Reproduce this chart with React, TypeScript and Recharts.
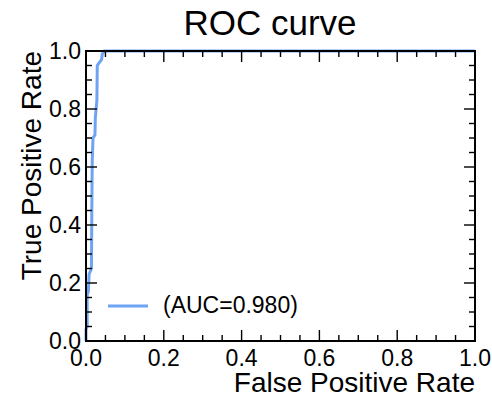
import { LineChart, Line, XAxis, YAxis, Legend, ReferenceArea } from "recharts"

// ROC points (false positive rate / true positive rate)
const fpr = [0, 0, 0.003, 0.003, 0.006, 0.008, 0.014, 0.015, 0.016, 0.018, 0.023, 0.024, 0.026, 0.028, 0.029, 0.034, 0.04, 0.042, 0.047, 1]
const tpr = [0, 0.04, 0.05, 0.16, 0.17, 0.23, 0.25, 0.45, 0.62, 0.7, 0.71, 0.77, 0.8, 0.83, 0.95, 0.96, 0.97, 0.99, 1, 1]

const tickValues = [0, 0.05, 0.1, 0.15, 0.2, 0.25, 0.3, 0.35, 0.4, 0.45, 0.5, 0.55, 0.6, 0.65, 0.7, 0.75, 0.8, 0.85, 0.9, 0.95, 1]
const majorTicks = [0, 0.2, 0.4, 0.6, 0.8, 1]

const title = "ROC curve"
const xTitle = "False Positive Rate"
const yTitle = "True Positive Rate"
const seriesName = "(AUC=0.980)"

const rocData = fpr.map((x, i) => ({ fpr: x, tpr: tpr[i] }))

const W = 492
const H = 399
const MARGIN = { top: 51, right: 17, bottom: 0, left: 0 }
const PLOT_TOP = MARGIN.top
const PLOT_RIGHT = W - MARGIN.right
const GAP = 6
const MAJOR = 11
const MINOR = 6
const TW = 1.4 // tick mark thickness
const FONT = "'Liberation Sans', Arial, Helvetica, sans-serif"
const LINE_COLOR = "#6fa3f3"

const isMajor = (v: number) => majorTicks.some((m) => Math.abs(m - v) < 1e-6)

// bottom tick: inward mark at the bottom and the matching one on the top spine
function BottomTick(props: any) {
  const { x, y, payload } = props
  const len = isMajor(payload.value) ? MAJOR : MINOR
  const base = y - GAP
  return (
    <g>
      <rect x={x - TW / 2} y={base - len} width={TW} height={len} fill="#000" />
      <rect x={x - TW / 2} y={PLOT_TOP} width={TW} height={len} fill="#000" />
      {isMajor(payload.value) && (
        <text x={x} y={base + 25} textAnchor="middle" fontSize={23} fontFamily={FONT} fill="#000">
          {payload.value.toFixed(1)}
        </text>
      )}
    </g>
  )
}

// left tick: inward mark on the left and the matching one on the right spine
function LeftTick(props: any) {
  const { x, y, payload } = props
  const len = isMajor(payload.value) ? MAJOR : MINOR
  const base = x + GAP
  return (
    <g>
      <rect x={base} y={y - TW / 2} width={len} height={TW} fill="#000" />
      <rect x={PLOT_RIGHT - len} y={y - TW / 2} width={len} height={TW} fill="#000" />
      {isMajor(payload.value) && (
        <text x={base - 5} y={y + 8} textAnchor="end" fontSize={23} fontFamily={FONT} fill="#000">
          {payload.value.toFixed(1)}
        </text>
      )}
    </g>
  )
}

function LegendBox({ payload }: any) {
  const item = payload && payload[0]
  return (
    <div style={{ display: "flex", alignItems: "center", fontFamily: FONT, fontSize: 23, color: "#000" }}>
      <svg width={55} height={6}>
        <line x1={0} x2={40} y1={3} y2={3} stroke={LINE_COLOR} strokeWidth={3} />
      </svg>
      <span>{item ? item.value : seriesName}</span>
    </div>
  )
}

export default function App() {
  return (
    <div style={{ position: "absolute", left: 0, top: 0, width: W, height: H, background: "#fff" }}>
      <LineChart width={W} height={H} data={rocData} margin={MARGIN}>
        <Line
          xAxisId="bottom"
          yAxisId="left"
          type="linear"
          dataKey="tpr"
          name={seriesName}
          stroke={LINE_COLOR}
          strokeWidth={3}
          dot={false}
          isAnimationActive={false}
        />
        <XAxis
          xAxisId="bottom"
          dataKey="fpr"
          type="number"
          domain={[0, 1]}
          ticks={tickValues}
          interval={0}
          height={58}
          tickSize={0}
          tickMargin={GAP}
          tick={BottomTick}
          axisLine={false}
        />
        <YAxis
          yAxisId="left"
          type="number"
          domain={[0, 1]}
          ticks={tickValues}
          interval={0}
          width={86}
          tickSize={0}
          tickMargin={GAP}
          tick={LeftTick}
          axisLine={false}
        />
        <ReferenceArea
          xAxisId="bottom"
          yAxisId="left"
          x1={0}
          x2={1}
          y1={0}
          y2={1}
          fill="none"
          fillOpacity={0}
          stroke="#000"
          strokeWidth={2}
          strokeOpacity={1}
          zIndex={600}
        />
        <Legend
          layout="vertical"
          align="center"
          verticalAlign="middle"
          content={<LegendBox />}
          wrapperStyle={{ position: "absolute", left: 108, top: 292, width: "auto" }}
        />
      </LineChart>
      <svg
        width={W}
        height={H}
        style={{ position: "absolute", left: 0, top: 0, pointerEvents: "none" }}
        fontFamily={FONT}
      >
        <text x={270} y={35} textAnchor="middle" fontSize={35} fill="#000">
          {title}
        </text>
        <text x={475} y={392} textAnchor="end" fontSize={28} fill="#000">
          {xTitle}
        </text>
        <text x={41} y={51} textAnchor="end" fontSize={28} fill="#000" transform="rotate(-90 41 51)">
          {yTitle}
        </text>
      </svg>
    </div>
  )
}
